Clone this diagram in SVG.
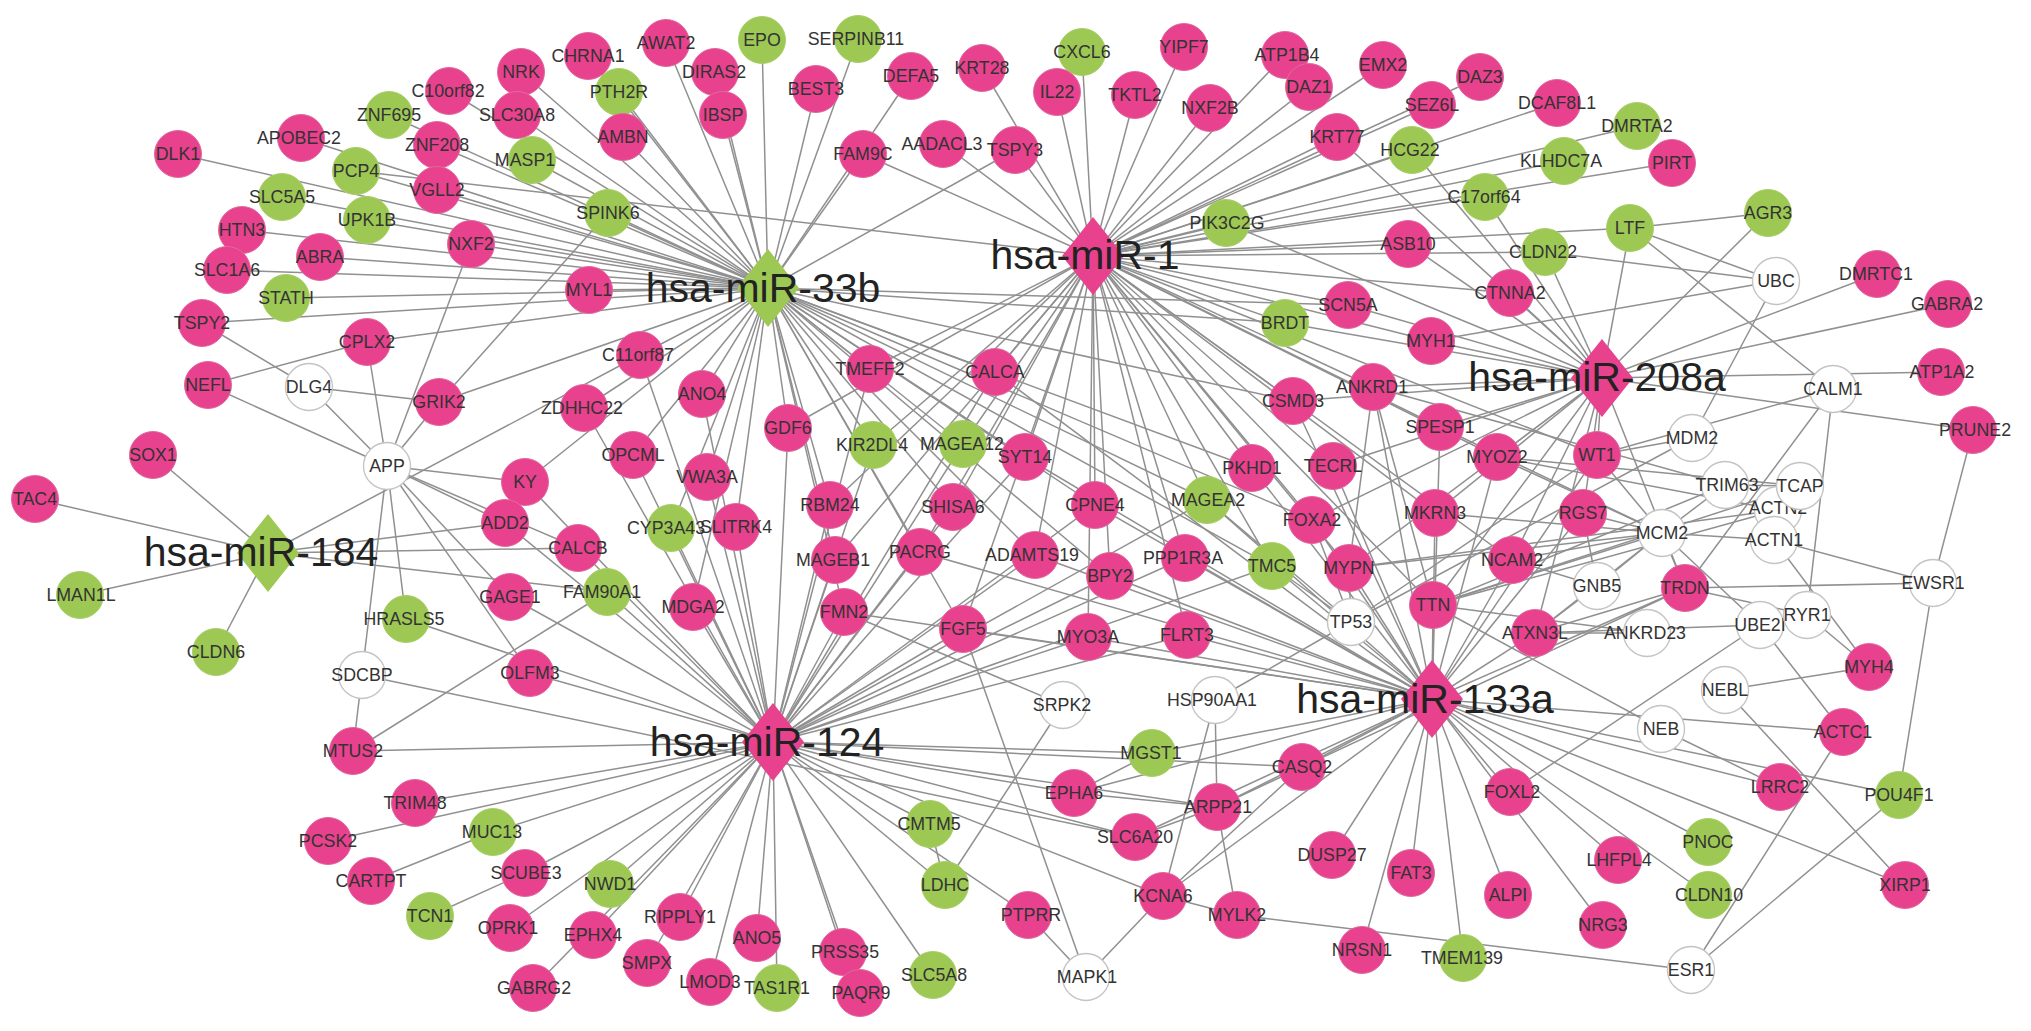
<svg xmlns="http://www.w3.org/2000/svg" width="2031" height="1031" viewBox="0 0 2031 1031">
<style>
.bg{fill:#fff}
#edges line{stroke:#909090;stroke-width:1.5}
circle{stroke-width:1}
.p{fill:#E8418D;stroke:#e06a9f}
.g{fill:#9DC853;stroke:#a9cf6a}
.w{fill:#fff;stroke:#c4c4c4;stroke-width:1.4}
.hp{fill:#E8418D}
.hg{fill:#9DC853}
text{font-family:"Liberation Sans",Arial,sans-serif;font-size:17.8px;fill:#333;text-anchor:middle}
.hl{font-size:41px;fill:#222}
</style>
<rect class="bg" x="0" y="0" width="2031" height="1031"/>
<g id="edges">
<line x1="768" y1="288" x2="178" y2="154"/><line x1="768" y1="288" x2="301" y2="138"/><line x1="768" y1="288" x2="389" y2="115"/><line x1="768" y1="288" x2="449" y2="91"/><line x1="768" y1="288" x2="521" y2="72"/><line x1="768" y1="288" x2="517" y2="115"/><line x1="768" y1="288" x2="356" y2="171"/><line x1="768" y1="288" x2="437" y2="145"/><line x1="768" y1="288" x2="437" y2="190"/><line x1="768" y1="288" x2="282" y2="197"/><line x1="768" y1="288" x2="367" y2="220"/><line x1="768" y1="288" x2="242" y2="230"/><line x1="768" y1="288" x2="471" y2="244"/><line x1="768" y1="288" x2="320" y2="257"/><line x1="768" y1="288" x2="227" y2="270"/><line x1="768" y1="288" x2="286" y2="298"/><line x1="768" y1="288" x2="202" y2="323"/><line x1="768" y1="288" x2="367" y2="342"/><line x1="768" y1="288" x2="532" y2="160"/><line x1="768" y1="288" x2="588" y2="56"/><line x1="768" y1="288" x2="666" y2="43"/><line x1="768" y1="288" x2="762" y2="40"/><line x1="768" y1="288" x2="858" y2="39"/><line x1="768" y1="288" x2="715" y2="72"/><line x1="768" y1="288" x2="619" y2="92"/><line x1="768" y1="288" x2="723" y2="115"/><line x1="768" y1="288" x2="816" y2="89"/><line x1="768" y1="288" x2="623" y2="137"/><line x1="768" y1="288" x2="863" y2="154"/><line x1="768" y1="288" x2="911" y2="76"/><line x1="768" y1="288" x2="1015" y2="150"/><line x1="768" y1="288" x2="608" y2="213"/><line x1="768" y1="288" x2="589" y2="290"/><line x1="768" y1="288" x2="640" y2="355"/><line x1="768" y1="288" x2="439" y2="402"/><line x1="768" y1="288" x2="584" y2="408"/><line x1="768" y1="288" x2="702" y2="394"/><line x1="768" y1="288" x2="788" y2="428"/><line x1="768" y1="288" x2="633" y2="455"/><line x1="768" y1="288" x2="525" y2="482"/><line x1="768" y1="288" x2="707" y2="477"/><line x1="768" y1="288" x2="671" y2="528"/><line x1="768" y1="288" x2="736" y2="527"/><line x1="768" y1="288" x2="870" y2="369"/><line x1="768" y1="288" x2="873" y2="445"/><line x1="768" y1="288" x2="963" y2="444"/><line x1="768" y1="288" x2="995" y2="372"/><line x1="768" y1="288" x2="830" y2="505"/><line x1="768" y1="288" x2="953" y2="507"/><line x1="768" y1="288" x2="835" y2="560"/><line x1="768" y1="288" x2="920" y2="552"/><line x1="768" y1="288" x2="844" y2="612"/><line x1="768" y1="288" x2="693" y2="607"/><line x1="768" y1="288" x2="963" y2="629"/><line x1="768" y1="288" x2="1025" y2="457"/><line x1="768" y1="288" x2="1095" y2="505"/><line x1="768" y1="288" x2="1207" y2="500"/><line x1="768" y1="288" x2="1272" y2="566"/><line x1="768" y1="288" x2="1035" y2="555"/><line x1="768" y1="288" x2="1110" y2="576"/><line x1="768" y1="288" x2="1293" y2="401"/><line x1="768" y1="288" x2="1252" y2="468"/><line x1="768" y1="288" x2="1285" y2="323"/><line x1="768" y1="288" x2="1348" y2="305"/><line x1="768" y1="288" x2="1312" y2="520"/>
<line x1="1093" y1="256" x2="1082" y2="52"/><line x1="1093" y1="256" x2="1184" y2="47"/><line x1="1093" y1="256" x2="1285" y2="55"/><line x1="1093" y1="256" x2="1383" y2="65"/><line x1="1093" y1="256" x2="1480" y2="77"/><line x1="1093" y1="256" x2="1057" y2="92"/><line x1="1093" y1="256" x2="1135" y2="95"/><line x1="1093" y1="256" x2="1210" y2="108"/><line x1="1093" y1="256" x2="1309" y2="87"/><line x1="1093" y1="256" x2="1432" y2="105"/><line x1="1093" y1="256" x2="1337" y2="137"/><line x1="1093" y1="256" x2="1412" y2="150"/><line x1="1093" y1="256" x2="1485" y2="197"/><line x1="1093" y1="256" x2="1226" y2="223"/><line x1="1093" y1="256" x2="1408" y2="244"/><line x1="1093" y1="256" x2="1557" y2="103"/><line x1="1093" y1="256" x2="1637" y2="126"/><line x1="1093" y1="256" x2="1564" y2="161"/><line x1="1093" y1="256" x2="1672" y2="163"/><line x1="1093" y1="256" x2="1630" y2="228"/><line x1="1093" y1="256" x2="1545" y2="252"/><line x1="1093" y1="256" x2="1510" y2="293"/><line x1="1093" y1="256" x2="1348" y2="305"/><line x1="1093" y1="256" x2="1285" y2="323"/><line x1="1093" y1="256" x2="1431" y2="341"/><line x1="1093" y1="256" x2="982" y2="68"/><line x1="1093" y1="256" x2="1015" y2="150"/><line x1="1093" y1="256" x2="863" y2="154"/><line x1="1093" y1="256" x2="943" y2="144"/><line x1="1093" y1="256" x2="356" y2="171"/><line x1="1093" y1="256" x2="870" y2="369"/><line x1="1093" y1="256" x2="995" y2="372"/><line x1="1093" y1="256" x2="1025" y2="457"/><line x1="1093" y1="256" x2="1095" y2="505"/><line x1="1093" y1="256" x2="963" y2="444"/><line x1="1093" y1="256" x2="788" y2="428"/><line x1="1093" y1="256" x2="873" y2="445"/><line x1="1093" y1="256" x2="953" y2="507"/><line x1="1093" y1="256" x2="920" y2="552"/><line x1="1093" y1="256" x2="1035" y2="555"/><line x1="1093" y1="256" x2="1110" y2="576"/><line x1="1093" y1="256" x2="963" y2="629"/><line x1="1093" y1="256" x2="1088" y2="637"/><line x1="1093" y1="256" x2="1185" y2="558"/><line x1="1093" y1="256" x2="1207" y2="500"/><line x1="1093" y1="256" x2="1252" y2="468"/><line x1="1093" y1="256" x2="1293" y2="401"/><line x1="1093" y1="256" x2="1333" y2="466"/><line x1="1093" y1="256" x2="1373" y2="387"/><line x1="1093" y1="256" x2="1440" y2="427"/><line x1="1093" y1="256" x2="1497" y2="457"/><line x1="1093" y1="256" x2="1312" y2="520"/><line x1="1093" y1="256" x2="1435" y2="513"/><line x1="1093" y1="256" x2="1349" y2="568"/><line x1="1093" y1="256" x2="1433" y2="605"/><line x1="1093" y1="256" x2="1597" y2="455"/><line x1="1093" y1="256" x2="1512" y2="560"/><line x1="1093" y1="256" x2="1187" y2="635"/><line x1="1093" y1="256" x2="1272" y2="566"/><line x1="1093" y1="256" x2="830" y2="505"/><line x1="1093" y1="256" x2="835" y2="560"/>
<line x1="268" y1="553" x2="153" y2="455"/><line x1="268" y1="553" x2="35" y2="499"/><line x1="268" y1="553" x2="80" y2="595"/><line x1="268" y1="553" x2="216" y2="652"/><line x1="268" y1="553" x2="640" y2="355"/><line x1="268" y1="553" x2="505" y2="523"/><line x1="268" y1="553" x2="607" y2="592"/><line x1="268" y1="553" x2="578" y2="548"/>
<line x1="773" y1="742" x2="353" y2="751"/><line x1="773" y1="742" x2="415" y2="803"/><line x1="773" y1="742" x2="328" y2="841"/><line x1="773" y1="742" x2="493" y2="832"/><line x1="773" y1="742" x2="525" y2="873"/><line x1="773" y1="742" x2="510" y2="928"/><line x1="773" y1="742" x2="533" y2="988"/><line x1="773" y1="742" x2="610" y2="884"/><line x1="773" y1="742" x2="680" y2="917"/><line x1="773" y1="742" x2="710" y2="982"/><line x1="773" y1="742" x2="757" y2="938"/><line x1="773" y1="742" x2="777" y2="988"/><line x1="773" y1="742" x2="843" y2="952"/><line x1="773" y1="742" x2="933" y2="975"/><line x1="773" y1="742" x2="930" y2="824"/><line x1="773" y1="742" x2="1028" y2="915"/><line x1="773" y1="742" x2="593" y2="935"/><line x1="773" y1="742" x2="406" y2="619"/><line x1="773" y1="742" x2="530" y2="673"/><line x1="773" y1="742" x2="510" y2="597"/><line x1="773" y1="742" x2="607" y2="592"/><line x1="773" y1="742" x2="578" y2="548"/><line x1="773" y1="742" x2="505" y2="523"/><line x1="773" y1="742" x2="525" y2="482"/><line x1="773" y1="742" x2="671" y2="528"/><line x1="773" y1="742" x2="693" y2="607"/><line x1="773" y1="742" x2="736" y2="527"/><line x1="773" y1="742" x2="707" y2="477"/><line x1="773" y1="742" x2="633" y2="455"/><line x1="773" y1="742" x2="702" y2="394"/><line x1="773" y1="742" x2="640" y2="355"/><line x1="773" y1="742" x2="584" y2="408"/><line x1="773" y1="742" x2="788" y2="428"/><line x1="773" y1="742" x2="830" y2="505"/><line x1="773" y1="742" x2="835" y2="560"/><line x1="773" y1="742" x2="844" y2="612"/><line x1="773" y1="742" x2="963" y2="629"/><line x1="773" y1="742" x2="920" y2="552"/><line x1="773" y1="742" x2="873" y2="445"/><line x1="773" y1="742" x2="963" y2="444"/><line x1="773" y1="742" x2="953" y2="507"/><line x1="773" y1="742" x2="870" y2="369"/><line x1="773" y1="742" x2="995" y2="372"/><line x1="773" y1="742" x2="1025" y2="457"/><line x1="773" y1="742" x2="1035" y2="555"/><line x1="773" y1="742" x2="1095" y2="505"/><line x1="773" y1="742" x2="1110" y2="576"/><line x1="773" y1="742" x2="1088" y2="637"/><line x1="773" y1="742" x2="1187" y2="635"/><line x1="773" y1="742" x2="1152" y2="753"/><line x1="773" y1="742" x2="1074" y2="793"/><line x1="773" y1="742" x2="1135" y2="837"/><line x1="773" y1="742" x2="1302" y2="767"/><line x1="773" y1="742" x2="1217" y2="807"/><line x1="773" y1="742" x2="1163" y2="896"/><line x1="773" y1="742" x2="1185" y2="558"/><line x1="773" y1="742" x2="1207" y2="500"/><line x1="773" y1="742" x2="1272" y2="566"/><line x1="773" y1="742" x2="647" y2="963"/><line x1="773" y1="742" x2="860" y2="993"/><line x1="773" y1="742" x2="945" y2="885"/>
<line x1="1432" y1="699" x2="1510" y2="792"/><line x1="1432" y1="699" x2="1508" y2="895"/><line x1="1432" y1="699" x2="1411" y2="873"/><line x1="1432" y1="699" x2="1332" y2="855"/><line x1="1432" y1="699" x2="1362" y2="950"/><line x1="1432" y1="699" x2="1463" y2="958"/><line x1="1432" y1="699" x2="1603" y2="925"/><line x1="1432" y1="699" x2="1618" y2="860"/><line x1="1432" y1="699" x2="1708" y2="842"/><line x1="1432" y1="699" x2="1708" y2="895"/><line x1="1432" y1="699" x2="1905" y2="885"/><line x1="1432" y1="699" x2="1899" y2="795"/><line x1="1432" y1="699" x2="1780" y2="787"/><line x1="1432" y1="699" x2="1843" y2="732"/><line x1="1432" y1="699" x2="1302" y2="767"/><line x1="1432" y1="699" x2="1217" y2="807"/><line x1="1432" y1="699" x2="1152" y2="753"/><line x1="1432" y1="699" x2="1163" y2="896"/><line x1="1432" y1="699" x2="1074" y2="793"/><line x1="1432" y1="699" x2="1135" y2="837"/><line x1="1432" y1="699" x2="1433" y2="605"/><line x1="1432" y1="699" x2="1349" y2="568"/><line x1="1432" y1="699" x2="1333" y2="466"/><line x1="1432" y1="699" x2="1312" y2="520"/><line x1="1432" y1="699" x2="1535" y2="633"/><line x1="1432" y1="699" x2="1512" y2="560"/><line x1="1432" y1="699" x2="1583" y2="513"/><line x1="1432" y1="699" x2="1497" y2="457"/><line x1="1432" y1="699" x2="1440" y2="427"/><line x1="1432" y1="699" x2="1373" y2="387"/><line x1="1432" y1="699" x2="1293" y2="401"/><line x1="1432" y1="699" x2="1435" y2="513"/><line x1="1432" y1="699" x2="1597" y2="455"/><line x1="1432" y1="699" x2="1685" y2="588"/><line x1="1432" y1="699" x2="1272" y2="566"/><line x1="1432" y1="699" x2="1252" y2="468"/><line x1="1432" y1="699" x2="1187" y2="635"/><line x1="1432" y1="699" x2="1110" y2="576"/><line x1="1432" y1="699" x2="1088" y2="637"/><line x1="1432" y1="699" x2="1185" y2="558"/><line x1="1432" y1="699" x2="963" y2="629"/><line x1="1432" y1="699" x2="1207" y2="500"/><line x1="1432" y1="699" x2="1095" y2="505"/><line x1="1432" y1="699" x2="1035" y2="555"/><line x1="1432" y1="699" x2="1025" y2="457"/><line x1="1432" y1="699" x2="920" y2="552"/><line x1="1432" y1="699" x2="844" y2="612"/><line x1="1432" y1="699" x2="995" y2="372"/>
<line x1="1602" y1="378" x2="1226" y2="223"/><line x1="1602" y1="378" x2="1485" y2="197"/><line x1="1602" y1="378" x2="1630" y2="228"/><line x1="1602" y1="378" x2="1768" y2="213"/><line x1="1602" y1="378" x2="1545" y2="252"/><line x1="1602" y1="378" x2="1877" y2="274"/><line x1="1602" y1="378" x2="1948" y2="304"/><line x1="1602" y1="378" x2="1510" y2="293"/><line x1="1602" y1="378" x2="1431" y2="341"/><line x1="1602" y1="378" x2="1408" y2="244"/><line x1="1602" y1="378" x2="1348" y2="305"/><line x1="1602" y1="378" x2="1285" y2="323"/><line x1="1602" y1="378" x2="1373" y2="387"/><line x1="1602" y1="378" x2="1440" y2="427"/><line x1="1602" y1="378" x2="1497" y2="457"/><line x1="1602" y1="378" x2="1597" y2="455"/><line x1="1602" y1="378" x2="1583" y2="513"/><line x1="1602" y1="378" x2="1512" y2="560"/><line x1="1602" y1="378" x2="1535" y2="633"/><line x1="1602" y1="378" x2="1435" y2="513"/><line x1="1602" y1="378" x2="1433" y2="605"/><line x1="1602" y1="378" x2="1349" y2="568"/><line x1="1602" y1="378" x2="1333" y2="466"/><line x1="1602" y1="378" x2="1293" y2="401"/><line x1="1602" y1="378" x2="1312" y2="520"/><line x1="1602" y1="378" x2="1941" y2="372"/><line x1="1602" y1="378" x2="1973" y2="430"/><line x1="1602" y1="378" x2="1685" y2="588"/><line x1="1602" y1="378" x2="1412" y2="150"/><line x1="1602" y1="378" x2="1337" y2="137"/>
<line x1="202" y1="323" x2="309" y2="387"/><line x1="208" y1="385" x2="367" y2="342"/><line x1="208" y1="385" x2="387" y2="466"/><line x1="309" y1="387" x2="439" y2="402"/><line x1="309" y1="387" x2="387" y2="466"/><line x1="367" y1="342" x2="387" y2="466"/><line x1="439" y1="402" x2="387" y2="466"/><line x1="471" y1="244" x2="387" y2="466"/><line x1="608" y1="213" x2="439" y2="402"/><line x1="387" y1="466" x2="525" y2="482"/><line x1="387" y1="466" x2="505" y2="523"/><line x1="387" y1="466" x2="578" y2="548"/><line x1="387" y1="466" x2="530" y2="673"/><line x1="387" y1="466" x2="510" y2="597"/><line x1="387" y1="466" x2="406" y2="619"/><line x1="387" y1="466" x2="362" y2="675"/><line x1="362" y1="675" x2="353" y2="751"/><line x1="362" y1="675" x2="1135" y2="837"/><line x1="353" y1="751" x2="607" y2="592"/><line x1="371" y1="881" x2="493" y2="832"/><line x1="430" y1="916" x2="525" y2="873"/><line x1="945" y1="885" x2="1063" y2="705"/><line x1="930" y1="824" x2="945" y2="885"/><line x1="1086" y1="977" x2="963" y2="629"/><line x1="1086" y1="977" x2="1028" y2="915"/><line x1="1086" y1="977" x2="1163" y2="896"/><line x1="1063" y1="705" x2="844" y2="612"/><line x1="1215" y1="700" x2="1351" y2="622"/><line x1="1215" y1="700" x2="1217" y2="807"/><line x1="1215" y1="700" x2="1163" y2="896"/><line x1="1163" y1="896" x2="1237" y2="915"/><line x1="1237" y1="915" x2="1217" y2="807"/><line x1="1237" y1="915" x2="1691" y2="970"/><line x1="1163" y1="896" x2="1302" y2="767"/><line x1="1217" y1="807" x2="1302" y2="767"/><line x1="1217" y1="807" x2="1135" y2="837"/><line x1="1074" y1="793" x2="1152" y2="753"/><line x1="1074" y1="793" x2="1217" y2="807"/><line x1="1843" y1="732" x2="1691" y2="970"/><line x1="1899" y1="795" x2="1691" y2="970"/><line x1="1899" y1="795" x2="1933" y2="583"/><line x1="1973" y1="430" x2="1933" y2="583"/><line x1="1933" y1="583" x2="1774" y2="540"/><line x1="1933" y1="583" x2="1685" y2="588"/><line x1="1774" y1="540" x2="1869" y2="667"/><line x1="1807" y1="615" x2="1869" y2="667"/><line x1="1725" y1="690" x2="1869" y2="667"/><line x1="1760" y1="625" x2="1843" y2="732"/><line x1="1510" y1="792" x2="1760" y2="625"/><line x1="1661" y1="729" x2="1780" y2="787"/><line x1="1725" y1="690" x2="1905" y2="885"/><line x1="1725" y1="485" x2="1800" y2="486"/><line x1="1833" y1="389" x2="1685" y2="588"/><line x1="1833" y1="389" x2="1630" y2="228"/><line x1="1833" y1="389" x2="1807" y2="615"/><line x1="1833" y1="389" x2="1597" y2="455"/><line x1="1776" y1="281" x2="1630" y2="228"/><line x1="1776" y1="281" x2="1545" y2="252"/><line x1="1776" y1="281" x2="1692" y2="438"/><line x1="1776" y1="281" x2="1431" y2="341"/><line x1="1630" y1="228" x2="1768" y2="213"/><line x1="1692" y1="438" x2="1597" y2="455"/><line x1="1692" y1="438" x2="1351" y2="622"/><line x1="1662" y1="533" x2="1597" y2="455"/><line x1="1662" y1="533" x2="1583" y2="513"/><line x1="1662" y1="533" x2="1512" y2="560"/><line x1="1662" y1="533" x2="1535" y2="633"/><line x1="1662" y1="533" x2="1433" y2="605"/><line x1="1662" y1="533" x2="1497" y2="457"/><line x1="1662" y1="533" x2="1435" y2="513"/><line x1="1662" y1="533" x2="1349" y2="568"/><line x1="1662" y1="533" x2="1725" y2="485"/><line x1="1662" y1="533" x2="1685" y2="588"/><line x1="1662" y1="533" x2="1597" y2="586"/><line x1="1662" y1="533" x2="1760" y2="625"/><line x1="1662" y1="533" x2="1774" y2="540"/><line x1="1662" y1="533" x2="1440" y2="427"/><line x1="1597" y1="586" x2="1583" y2="513"/><line x1="1597" y1="586" x2="1535" y2="633"/><line x1="1597" y1="586" x2="1512" y2="560"/><line x1="1685" y1="588" x2="1807" y2="615"/><line x1="1685" y1="588" x2="1302" y2="767"/><line x1="1685" y1="588" x2="1535" y2="633"/><line x1="1647" y1="633" x2="1433" y2="605"/><line x1="1647" y1="633" x2="1535" y2="633"/><line x1="1433" y1="605" x2="1800" y2="486"/><line x1="1433" y1="605" x2="1778" y2="510"/><line x1="1433" y1="605" x2="1725" y2="485"/><line x1="1433" y1="605" x2="1661" y2="729"/><line x1="1497" y1="457" x2="1778" y2="510"/><line x1="1497" y1="457" x2="1800" y2="486"/><line x1="1349" y1="568" x2="1778" y2="510"/><line x1="1373" y1="387" x2="1433" y2="605"/><line x1="1373" y1="387" x2="1349" y2="568"/><line x1="1373" y1="387" x2="1725" y2="485"/><line x1="1351" y1="622" x2="1312" y2="520"/><line x1="1351" y1="622" x2="1349" y2="568"/><line x1="1351" y1="622" x2="1597" y2="455"/><line x1="1351" y1="622" x2="1272" y2="566"/><line x1="1351" y1="622" x2="1207" y2="500"/><line x1="1535" y1="633" x2="1760" y2="625"/>
</g>
<g id="nodes">
<g id="n-DLK1"><circle class="p" cx="178" cy="154" r="23.5"/><text x="178" y="160">DLK1</text></g>
<g id="n-APOBEC2"><circle class="p" cx="301" cy="138" r="23.5"/><text x="299" y="144">APOBEC2</text></g>
<g id="n-ZNF695"><circle class="g" cx="389" cy="115" r="23.5"/><text x="389" y="121">ZNF695</text></g>
<g id="n-C10orf82"><circle class="p" cx="449" cy="91" r="23.5"/><text x="448" y="97">C10orf82</text></g>
<g id="n-NRK"><circle class="p" cx="521" cy="72" r="23.5"/><text x="521" y="78">NRK</text></g>
<g id="n-SLC30A8"><circle class="p" cx="517" cy="115" r="23.5"/><text x="517" y="121">SLC30A8</text></g>
<g id="n-PCP4"><circle class="g" cx="356" cy="171" r="23.5"/><text x="356" y="177">PCP4</text></g>
<g id="n-ZNF208"><circle class="p" cx="437" cy="145" r="23.5"/><text x="437" y="151">ZNF208</text></g>
<g id="n-VGLL2"><circle class="p" cx="437" cy="190" r="23.5"/><text x="437" y="196">VGLL2</text></g>
<g id="n-SLC5A5"><circle class="g" cx="282" cy="197" r="23.5"/><text x="282" y="203">SLC5A5</text></g>
<g id="n-UPK1B"><circle class="g" cx="367" cy="220" r="23.5"/><text x="367" y="226">UPK1B</text></g>
<g id="n-HTN3"><circle class="p" cx="242" cy="230" r="23.5"/><text x="242" y="236">HTN3</text></g>
<g id="n-NXF2"><circle class="p" cx="471" cy="244" r="23.5"/><text x="471" y="250">NXF2</text></g>
<g id="n-ABRA"><circle class="p" cx="320" cy="257" r="23.5"/><text x="320" y="263">ABRA</text></g>
<g id="n-SLC1A6"><circle class="p" cx="227" cy="270" r="23.5"/><text x="227" y="276">SLC1A6</text></g>
<g id="n-STATH"><circle class="g" cx="286" cy="298" r="23.5"/><text x="286" y="304">STATH</text></g>
<g id="n-TSPY2"><circle class="p" cx="202" cy="323" r="23.5"/><text x="202" y="329">TSPY2</text></g>
<g id="n-CPLX2"><circle class="p" cx="367" cy="342" r="23.5"/><text x="367" y="348">CPLX2</text></g>
<g id="n-MASP1"><circle class="g" cx="532" cy="160" r="23.5"/><text x="525" y="166">MASP1</text></g>
<g id="n-CHRNA1"><circle class="p" cx="588" cy="56" r="23.5"/><text x="588" y="62">CHRNA1</text></g>
<g id="n-AWAT2"><circle class="p" cx="666" cy="43" r="23.5"/><text x="666" y="49">AWAT2</text></g>
<g id="n-EPO"><circle class="g" cx="762" cy="40" r="23.5"/><text x="762" y="46">EPO</text></g>
<g id="n-SERPINB11"><circle class="g" cx="858" cy="39" r="23.5"/><text x="856" y="45">SERPINB11</text></g>
<g id="n-DIRAS2"><circle class="p" cx="715" cy="72" r="23.5"/><text x="714" y="78">DIRAS2</text></g>
<g id="n-PTH2R"><circle class="g" cx="619" cy="92" r="23.5"/><text x="619" y="98">PTH2R</text></g>
<g id="n-IBSP"><circle class="p" cx="723" cy="115" r="23.5"/><text x="723" y="121">IBSP</text></g>
<g id="n-BEST3"><circle class="p" cx="816" cy="89" r="23.5"/><text x="816" y="95">BEST3</text></g>
<g id="n-DEFA5"><circle class="p" cx="911" cy="76" r="23.5"/><text x="911" y="82">DEFA5</text></g>
<g id="n-KRT28"><circle class="p" cx="982" cy="68" r="23.5"/><text x="982" y="74">KRT28</text></g>
<g id="n-AMBN"><circle class="p" cx="623" cy="137" r="23.5"/><text x="623" y="143">AMBN</text></g>
<g id="n-FAM9C"><circle class="p" cx="863" cy="154" r="23.5"/><text x="863" y="160">FAM9C</text></g>
<g id="n-AADACL3"><circle class="p" cx="943" cy="144" r="23.5"/><text x="942" y="150">AADACL3</text></g>
<g id="n-TSPY3"><circle class="p" cx="1015" cy="150" r="23.5"/><text x="1015" y="156">TSPY3</text></g>
<g id="n-SPINK6"><circle class="g" cx="608" cy="213" r="23.5"/><text x="608" y="219">SPINK6</text></g>
<g id="n-MYL1"><circle class="p" cx="589" cy="290" r="23.5"/><text x="589" y="296">MYL1</text></g>
<g id="n-CXCL6"><circle class="g" cx="1082" cy="52" r="23.5"/><text x="1082" y="58">CXCL6</text></g>
<g id="n-YIPF7"><circle class="p" cx="1184" cy="47" r="23.5"/><text x="1184" y="53">YIPF7</text></g>
<g id="n-ATP1B4"><circle class="p" cx="1285" cy="55" r="23.5"/><text x="1287" y="61">ATP1B4</text></g>
<g id="n-EMX2"><circle class="p" cx="1383" cy="65" r="23.5"/><text x="1383" y="71">EMX2</text></g>
<g id="n-DAZ3"><circle class="p" cx="1480" cy="77" r="23.5"/><text x="1480" y="83">DAZ3</text></g>
<g id="n-IL22"><circle class="p" cx="1057" cy="92" r="23.5"/><text x="1057" y="98">IL22</text></g>
<g id="n-TKTL2"><circle class="p" cx="1135" cy="95" r="23.5"/><text x="1135" y="101">TKTL2</text></g>
<g id="n-NXF2B"><circle class="p" cx="1210" cy="108" r="23.5"/><text x="1210" y="114">NXF2B</text></g>
<g id="n-DAZ1"><circle class="p" cx="1309" cy="87" r="23.5"/><text x="1309" y="93">DAZ1</text></g>
<g id="n-SEZ6L"><circle class="p" cx="1432" cy="105" r="23.5"/><text x="1432" y="111">SEZ6L</text></g>
<g id="n-KRT77"><circle class="p" cx="1337" cy="137" r="23.5"/><text x="1337" y="143">KRT77</text></g>
<g id="n-HCG22"><circle class="g" cx="1412" cy="150" r="23.5"/><text x="1410" y="156">HCG22</text></g>
<g id="n-C17orf64"><circle class="g" cx="1485" cy="197" r="23.5"/><text x="1484" y="203">C17orf64</text></g>
<g id="n-PIK3C2G"><circle class="g" cx="1226" cy="223" r="23.5"/><text x="1227" y="229">PIK3C2G</text></g>
<g id="n-ASB10"><circle class="p" cx="1408" cy="244" r="23.5"/><text x="1408" y="250">ASB10</text></g>
<g id="n-SCN5A"><circle class="p" cx="1348" cy="305" r="23.5"/><text x="1348" y="311">SCN5A</text></g>
<g id="n-BRDT"><circle class="g" cx="1285" cy="323" r="23.5"/><text x="1285" y="329">BRDT</text></g>
<g id="n-MYH1"><circle class="p" cx="1431" cy="341" r="23.5"/><text x="1431" y="347">MYH1</text></g>
<g id="n-CTNNA2"><circle class="p" cx="1510" cy="293" r="23.5"/><text x="1510" y="299">CTNNA2</text></g>
<g id="n-DCAF8L1"><circle class="p" cx="1557" cy="103" r="23.5"/><text x="1557" y="109">DCAF8L1</text></g>
<g id="n-DMRTA2"><circle class="g" cx="1637" cy="126" r="23.5"/><text x="1637" y="132">DMRTA2</text></g>
<g id="n-KLHDC7A"><circle class="g" cx="1564" cy="161" r="23.5"/><text x="1561" y="167">KLHDC7A</text></g>
<g id="n-PIRT"><circle class="p" cx="1672" cy="163" r="23.5"/><text x="1672" y="169">PIRT</text></g>
<g id="n-AGR3"><circle class="g" cx="1768" cy="213" r="23.5"/><text x="1768" y="219">AGR3</text></g>
<g id="n-LTF"><circle class="g" cx="1630" cy="228" r="23.5"/><text x="1630" y="234">LTF</text></g>
<g id="n-CLDN22"><circle class="g" cx="1545" cy="252" r="23.5"/><text x="1543" y="258">CLDN22</text></g>
<g id="n-UBC"><circle class="w" cx="1776" cy="281" r="23.5"/><text x="1776" y="287">UBC</text></g>
<g id="n-DMRTC1"><circle class="p" cx="1877" cy="274" r="23.5"/><text x="1876" y="280">DMRTC1</text></g>
<g id="n-GABRA2"><circle class="p" cx="1948" cy="304" r="23.5"/><text x="1947" y="310">GABRA2</text></g>
<g id="n-NEFL"><circle class="p" cx="208" cy="385" r="23.5"/><text x="208" y="391">NEFL</text></g>
<g id="n-DLG4"><circle class="w" cx="309" cy="387" r="23.5"/><text x="309" y="393">DLG4</text></g>
<g id="n-GRIK2"><circle class="p" cx="439" cy="402" r="23.5"/><text x="439" y="408">GRIK2</text></g>
<g id="n-SOX1"><circle class="p" cx="153" cy="455" r="23.5"/><text x="153" y="461">SOX1</text></g>
<g id="n-APP"><circle class="w" cx="387" cy="466" r="23.5"/><text x="387" y="472">APP</text></g>
<g id="n-TAC4"><circle class="p" cx="35" cy="499" r="23.5"/><text x="35" y="505">TAC4</text></g>
<g id="n-LMAN1L"><circle class="g" cx="80" cy="595" r="23.5"/><text x="81" y="601">LMAN1L</text></g>
<g id="n-CLDN6"><circle class="g" cx="216" cy="652" r="23.5"/><text x="216" y="658">CLDN6</text></g>
<g id="n-HRASLS5"><circle class="g" cx="406" cy="619" r="23.5"/><text x="404" y="625">HRASLS5</text></g>
<g id="n-SDCBP"><circle class="w" cx="362" cy="675" r="23.5"/><text x="362" y="681">SDCBP</text></g>
<g id="n-KY"><circle class="p" cx="525" cy="482" r="23.5"/><text x="525" y="488">KY</text></g>
<g id="n-ADD2"><circle class="p" cx="505" cy="523" r="23.5"/><text x="505" y="529">ADD2</text></g>
<g id="n-GAGE1"><circle class="p" cx="510" cy="597" r="23.5"/><text x="510" y="603">GAGE1</text></g>
<g id="n-OLFM3"><circle class="p" cx="530" cy="673" r="23.5"/><text x="530" y="679">OLFM3</text></g>
<g id="n-C11orf87"><circle class="p" cx="640" cy="355" r="23.5"/><text x="638" y="361">C11orf87</text></g>
<g id="n-ANO4"><circle class="p" cx="702" cy="394" r="23.5"/><text x="702" y="400">ANO4</text></g>
<g id="n-ZDHHC22"><circle class="p" cx="584" cy="408" r="23.5"/><text x="582" y="414">ZDHHC22</text></g>
<g id="n-GDF6"><circle class="p" cx="788" cy="428" r="23.5"/><text x="788" y="434">GDF6</text></g>
<g id="n-TMEFF2"><circle class="p" cx="870" cy="369" r="23.5"/><text x="870" y="375">TMEFF2</text></g>
<g id="n-CALCA"><circle class="p" cx="995" cy="372" r="23.5"/><text x="995" y="378">CALCA</text></g>
<g id="n-OPCML"><circle class="p" cx="633" cy="455" r="23.5"/><text x="633" y="461">OPCML</text></g>
<g id="n-KIR2DL4"><circle class="g" cx="873" cy="445" r="23.5"/><text x="872" y="451">KIR2DL4</text></g>
<g id="n-MAGEA12"><circle class="g" cx="963" cy="444" r="23.5"/><text x="962" y="450">MAGEA12</text></g>
<g id="n-VWA3A"><circle class="p" cx="707" cy="477" r="23.5"/><text x="707" y="483">VWA3A</text></g>
<g id="n-RBM24"><circle class="p" cx="830" cy="505" r="23.5"/><text x="830" y="511">RBM24</text></g>
<g id="n-SHISA6"><circle class="p" cx="953" cy="507" r="23.5"/><text x="953" y="513">SHISA6</text></g>
<g id="n-CYP3A43"><circle class="g" cx="671" cy="528" r="23.5"/><text x="666" y="534">CYP3A43</text></g>
<g id="n-SLITRK4"><circle class="p" cx="736" cy="527" r="23.5"/><text x="736" y="533">SLITRK4</text></g>
<g id="n-CALCB"><circle class="p" cx="578" cy="548" r="23.5"/><text x="578" y="554">CALCB</text></g>
<g id="n-MAGEB1"><circle class="p" cx="835" cy="560" r="23.5"/><text x="833" y="566">MAGEB1</text></g>
<g id="n-PACRG"><circle class="p" cx="920" cy="552" r="23.5"/><text x="920" y="558">PACRG</text></g>
<g id="n-ADAMTS19"><circle class="p" cx="1035" cy="555" r="23.5"/><text x="1032" y="561">ADAMTS19</text></g>
<g id="n-FAM90A1"><circle class="g" cx="607" cy="592" r="23.5"/><text x="602" y="598">FAM90A1</text></g>
<g id="n-MDGA2"><circle class="p" cx="693" cy="607" r="23.5"/><text x="693" y="613">MDGA2</text></g>
<g id="n-FMN2"><circle class="p" cx="844" cy="612" r="23.5"/><text x="844" y="618">FMN2</text></g>
<g id="n-FGF5"><circle class="p" cx="963" cy="629" r="23.5"/><text x="963" y="635">FGF5</text></g>
<g id="n-SYT14"><circle class="p" cx="1025" cy="457" r="23.5"/><text x="1025" y="463">SYT14</text></g>
<g id="n-CPNE4"><circle class="p" cx="1095" cy="505" r="23.5"/><text x="1095" y="511">CPNE4</text></g>
<g id="n-MAGEA2"><circle class="g" cx="1207" cy="500" r="23.5"/><text x="1208" y="506">MAGEA2</text></g>
<g id="n-PKHD1"><circle class="p" cx="1252" cy="468" r="23.5"/><text x="1252" y="474">PKHD1</text></g>
<g id="n-TECRL"><circle class="p" cx="1333" cy="466" r="23.5"/><text x="1333" y="472">TECRL</text></g>
<g id="n-CSMD3"><circle class="p" cx="1293" cy="401" r="23.5"/><text x="1293" y="407">CSMD3</text></g>
<g id="n-ANKRD1"><circle class="p" cx="1373" cy="387" r="23.5"/><text x="1372" y="393">ANKRD1</text></g>
<g id="n-SPESP1"><circle class="p" cx="1440" cy="427" r="23.5"/><text x="1440" y="433">SPESP1</text></g>
<g id="n-MYOZ2"><circle class="p" cx="1497" cy="457" r="23.5"/><text x="1497" y="463">MYOZ2</text></g>
<g id="n-FOXA2"><circle class="p" cx="1312" cy="520" r="23.5"/><text x="1312" y="526">FOXA2</text></g>
<g id="n-MKRN3"><circle class="p" cx="1435" cy="513" r="23.5"/><text x="1435" y="519">MKRN3</text></g>
<g id="n-BPY2"><circle class="p" cx="1110" cy="576" r="23.5"/><text x="1110" y="582">BPY2</text></g>
<g id="n-PPP1R3A"><circle class="p" cx="1185" cy="558" r="23.5"/><text x="1183" y="564">PPP1R3A</text></g>
<g id="n-TMC5"><circle class="g" cx="1272" cy="566" r="23.5"/><text x="1272" y="572">TMC5</text></g>
<g id="n-MYPN"><circle class="p" cx="1349" cy="568" r="23.5"/><text x="1349" y="574">MYPN</text></g>
<g id="n-NCAM2"><circle class="p" cx="1512" cy="560" r="23.5"/><text x="1512" y="566">NCAM2</text></g>
<g id="n-TTN"><circle class="p" cx="1433" cy="605" r="23.5"/><text x="1433" y="611">TTN</text></g>
<g id="n-TP53"><circle class="w" cx="1351" cy="622" r="23.5"/><text x="1351" y="628">TP53</text></g>
<g id="n-MYO3A"><circle class="p" cx="1088" cy="637" r="23.5"/><text x="1088" y="643">MYO3A</text></g>
<g id="n-FLRT3"><circle class="p" cx="1187" cy="635" r="23.5"/><text x="1187" y="641">FLRT3</text></g>
<g id="n-ATXN3L"><circle class="p" cx="1535" cy="633" r="23.5"/><text x="1535" y="639">ATXN3L</text></g>
<g id="n-CALM1"><circle class="w" cx="1833" cy="389" r="23.5"/><text x="1833" y="395">CALM1</text></g>
<g id="n-ATP1A2"><circle class="p" cx="1941" cy="372" r="23.5"/><text x="1942" y="378">ATP1A2</text></g>
<g id="n-PRUNE2"><circle class="p" cx="1973" cy="430" r="23.5"/><text x="1975" y="436">PRUNE2</text></g>
<g id="n-MDM2"><circle class="w" cx="1692" cy="438" r="23.5"/><text x="1692" y="444">MDM2</text></g>
<g id="n-WT1"><circle class="p" cx="1597" cy="455" r="23.5"/><text x="1597" y="461">WT1</text></g>
<g id="n-ACTN2"><circle class="w" cx="1778" cy="510" r="23.5"/><text x="1778" y="514">ACTN2</text></g>
<g id="n-TRIM63"><circle class="w" cx="1725" cy="485" r="23.5"/><text x="1727" y="491">TRIM63</text></g>
<g id="n-TCAP"><circle class="w" cx="1800" cy="486" r="23.5"/><text x="1800" y="492">TCAP</text></g>
<g id="n-RGS7"><circle class="p" cx="1583" cy="513" r="23.5"/><text x="1583" y="519">RGS7</text></g>
<g id="n-MCM2"><circle class="w" cx="1662" cy="533" r="23.5"/><text x="1662" y="539">MCM2</text></g>
<g id="n-ACTN1"><circle class="w" cx="1774" cy="540" r="23.5"/><text x="1774" y="546">ACTN1</text></g>
<g id="n-GNB5"><circle class="w" cx="1597" cy="586" r="23.5"/><text x="1597" y="592">GNB5</text></g>
<g id="n-TRDN"><circle class="p" cx="1685" cy="588" r="23.5"/><text x="1685" y="594">TRDN</text></g>
<g id="n-EWSR1"><circle class="w" cx="1933" cy="583" r="23.5"/><text x="1933" y="589">EWSR1</text></g>
<g id="n-UBE2I"><circle class="w" cx="1760" cy="625" r="23.5"/><text x="1760" y="631">UBE2I</text></g>
<g id="n-RYR1"><circle class="w" cx="1807" cy="615" r="23.5"/><text x="1807" y="621">RYR1</text></g>
<g id="n-ANKRD23"><circle class="w" cx="1647" cy="633" r="23.5"/><text x="1645" y="639">ANKRD23</text></g>
<g id="n-MYH4"><circle class="p" cx="1869" cy="667" r="23.5"/><text x="1869" y="673">MYH4</text></g>
<g id="n-NEBL"><circle class="w" cx="1725" cy="690" r="23.5"/><text x="1725" y="696">NEBL</text></g>
<g id="n-MTUS2"><circle class="p" cx="353" cy="751" r="23.5"/><text x="353" y="757">MTUS2</text></g>
<g id="n-TRIM48"><circle class="p" cx="415" cy="803" r="23.5"/><text x="415" y="809">TRIM48</text></g>
<g id="n-PCSK2"><circle class="p" cx="328" cy="841" r="23.5"/><text x="328" y="847">PCSK2</text></g>
<g id="n-MUC13"><circle class="g" cx="493" cy="832" r="23.5"/><text x="492" y="838">MUC13</text></g>
<g id="n-CARTPT"><circle class="p" cx="371" cy="881" r="23.5"/><text x="371" y="887">CARTPT</text></g>
<g id="n-SCUBE3"><circle class="p" cx="525" cy="873" r="23.5"/><text x="526" y="879">SCUBE3</text></g>
<g id="n-TCN1"><circle class="g" cx="430" cy="916" r="23.5"/><text x="430" y="922">TCN1</text></g>
<g id="n-OPRK1"><circle class="p" cx="510" cy="928" r="23.5"/><text x="508" y="934">OPRK1</text></g>
<g id="n-GABRG2"><circle class="p" cx="533" cy="988" r="23.5"/><text x="534" y="994">GABRG2</text></g>
<g id="n-NWD1"><circle class="g" cx="610" cy="884" r="23.5"/><text x="610" y="890">NWD1</text></g>
<g id="n-RIPPLY1"><circle class="p" cx="680" cy="917" r="23.5"/><text x="680" y="923">RIPPLY1</text></g>
<g id="n-EPHX4"><circle class="p" cx="593" cy="935" r="23.5"/><text x="593" y="941">EPHX4</text></g>
<g id="n-ANO5"><circle class="p" cx="757" cy="938" r="23.5"/><text x="757" y="944">ANO5</text></g>
<g id="n-PRSS35"><circle class="p" cx="843" cy="952" r="23.5"/><text x="845" y="958">PRSS35</text></g>
<g id="n-SMPX"><circle class="p" cx="647" cy="963" r="23.5"/><text x="647" y="969">SMPX</text></g>
<g id="n-LMOD3"><circle class="p" cx="710" cy="982" r="23.5"/><text x="710" y="988">LMOD3</text></g>
<g id="n-TAS1R1"><circle class="g" cx="777" cy="988" r="23.5"/><text x="777" y="994">TAS1R1</text></g>
<g id="n-PAQR9"><circle class="p" cx="860" cy="993" r="23.5"/><text x="861" y="999">PAQR9</text></g>
<g id="n-SLC5A8"><circle class="g" cx="933" cy="975" r="23.5"/><text x="934" y="981">SLC5A8</text></g>
<g id="n-CMTM5"><circle class="g" cx="930" cy="824" r="23.5"/><text x="929" y="830">CMTM5</text></g>
<g id="n-LDHC"><circle class="g" cx="945" cy="885" r="23.5"/><text x="945" y="891">LDHC</text></g>
<g id="n-SRPK2"><circle class="w" cx="1063" cy="705" r="23.5"/><text x="1062" y="711">SRPK2</text></g>
<g id="n-HSP90AA1"><circle class="w" cx="1215" cy="700" r="23.5"/><text x="1212" y="706">HSP90AA1</text></g>
<g id="n-MGST1"><circle class="g" cx="1152" cy="753" r="23.5"/><text x="1151" y="759">MGST1</text></g>
<g id="n-CASQ2"><circle class="p" cx="1302" cy="767" r="23.5"/><text x="1302" y="773">CASQ2</text></g>
<g id="n-EPHA6"><circle class="p" cx="1074" cy="793" r="23.5"/><text x="1074" y="799">EPHA6</text></g>
<g id="n-ARPP21"><circle class="p" cx="1217" cy="807" r="23.5"/><text x="1218" y="813">ARPP21</text></g>
<g id="n-SLC6A20"><circle class="p" cx="1135" cy="837" r="23.5"/><text x="1135" y="843">SLC6A20</text></g>
<g id="n-DUSP27"><circle class="p" cx="1332" cy="855" r="23.5"/><text x="1332" y="861">DUSP27</text></g>
<g id="n-FAT3"><circle class="p" cx="1411" cy="873" r="23.5"/><text x="1411" y="879">FAT3</text></g>
<g id="n-ALPI"><circle class="p" cx="1508" cy="895" r="23.5"/><text x="1508" y="901">ALPI</text></g>
<g id="n-KCNA6"><circle class="p" cx="1163" cy="896" r="23.5"/><text x="1163" y="902">KCNA6</text></g>
<g id="n-MYLK2"><circle class="p" cx="1237" cy="915" r="23.5"/><text x="1237" y="921">MYLK2</text></g>
<g id="n-MAPK1"><circle class="w" cx="1086" cy="977" r="23.5"/><text x="1087" y="983">MAPK1</text></g>
<g id="n-NRSN1"><circle class="p" cx="1362" cy="950" r="23.5"/><text x="1362" y="956">NRSN1</text></g>
<g id="n-TMEM139"><circle class="g" cx="1463" cy="958" r="23.5"/><text x="1462" y="964">TMEM139</text></g>
<g id="n-FOXL2"><circle class="p" cx="1510" cy="792" r="23.5"/><text x="1512" y="798">FOXL2</text></g>
<g id="n-PTPRR"><circle class="p" cx="1028" cy="915" r="23.5"/><text x="1031" y="921">PTPRR</text></g>
<g id="n-NEB"><circle class="w" cx="1661" cy="729" r="23.5"/><text x="1661" y="735">NEB</text></g>
<g id="n-ACTC1"><circle class="p" cx="1843" cy="732" r="23.5"/><text x="1843" y="738">ACTC1</text></g>
<g id="n-LRRC2"><circle class="p" cx="1780" cy="787" r="23.5"/><text x="1780" y="793">LRRC2</text></g>
<g id="n-POU4F1"><circle class="g" cx="1899" cy="795" r="23.5"/><text x="1899" y="801">POU4F1</text></g>
<g id="n-PNOC"><circle class="g" cx="1708" cy="842" r="23.5"/><text x="1708" y="848">PNOC</text></g>
<g id="n-LHFPL4"><circle class="p" cx="1618" cy="860" r="23.5"/><text x="1619" y="866">LHFPL4</text></g>
<g id="n-CLDN10"><circle class="g" cx="1708" cy="895" r="23.5"/><text x="1709" y="901">CLDN10</text></g>
<g id="n-XIRP1"><circle class="p" cx="1905" cy="885" r="23.5"/><text x="1905" y="891">XIRP1</text></g>
<g id="n-NRG3"><circle class="p" cx="1603" cy="925" r="23.5"/><text x="1603" y="931">NRG3</text></g>
<g id="n-ESR1"><circle class="w" cx="1691" cy="970" r="23.5"/><text x="1691" y="976">ESR1</text></g>
</g>
<g id="hubs">
<g id="hub-miR-33b"><polygon class="hg" points="768,249 799,288 768,327 737,288"/><text class="hl" x="763" y="302">hsa-miR-33b</text></g>
<g id="hub-miR-1"><polygon class="hp" points="1093,217 1124,256 1093,295 1062,256"/><text class="hl" x="1085" y="269">hsa-miR-1</text></g>
<g id="hub-miR-184"><polygon class="hg" points="268,514 299,553 268,592 237,553"/><text class="hl" x="261" y="566">hsa-miR-184</text></g>
<g id="hub-miR-124"><polygon class="hp" points="773,703 804,742 773,781 742,742"/><text class="hl" x="767" y="756">hsa-miR-124</text></g>
<g id="hub-miR-133a"><polygon class="hp" points="1432,660 1463,699 1432,738 1401,699"/><text class="hl" x="1425" y="713">hsa-miR-133a</text></g>
<g id="hub-miR-208a"><polygon class="hp" points="1602,339 1633,378 1602,417 1571,378"/><text class="hl" x="1597" y="391">hsa-miR-208a</text></g>
</g>
</svg>
